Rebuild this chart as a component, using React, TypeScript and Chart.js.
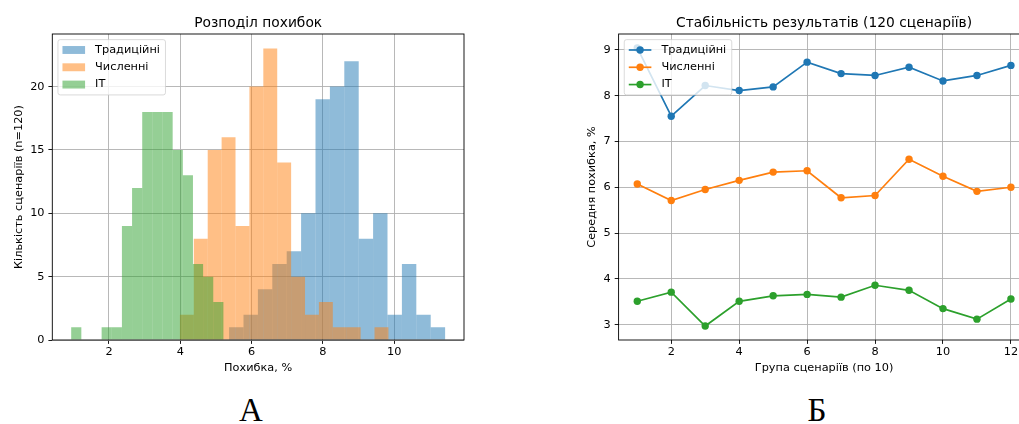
import React, { useEffect, useRef } from "react";
import { Chart, registerables } from "chart.js";

Chart.register(...registerables);

const FONT = "'DejaVu Sans', sans-serif";
const FS = 11.3;
const TITLE_FS = 13.8;

// ---------- Histogram (А) ----------
const seriesNames = ["Традиційні", "Численні", "ІТ"];
const tradCounts = [1, 2, 4, 6, 7, 10, 19, 20, 22, 8, 10, 2, 6, 2, 1];
const tradBinRange = [5.37, 11.43];
const numCounts = [2, 8, 15, 16, 9, 20, 23, 14, 5, 2, 3, 1, 1, 0, 1];
const numBinRange = [3.99, 9.84];
const itCounts = [1, 0, 0, 1, 1, 9, 12, 18, 18, 18, 15, 13, 6, 5, 3];
const itBinRange = [0.94, 5.21];
const histXTicks = [2, 4, 6, 8, 10];
const histYTicks = [0, 5, 10, 15, 20];
const histXRange = [0.41, 11.96];
const histYRange = [0, 24.15];

// ---------- Line chart (Б) ----------
const groups = [1, 2, 3, 4, 5, 6, 7, 8, 9, 10, 11, 12];
const tradMeans = [9.04, 7.55, 8.22, 8.11, 8.19, 8.73, 8.48, 8.44, 8.62, 8.32, 8.44, 8.66];
const numMeans = [6.07, 5.71, 5.95, 6.15, 6.33, 6.36, 5.77, 5.82, 6.61, 6.24, 5.91, 6.0];
const itMeans = [3.51, 3.71, 2.97, 3.51, 3.63, 3.66, 3.6, 3.86, 3.75, 3.35, 3.12, 3.56];
const lineXTicks = [2, 4, 6, 8, 10, 12];
const lineYTicks = [3, 4, 5, 6, 7, 8, 9];
const lineXRange = [0.45, 12.55];
const lineYRange = [2.665, 9.345];

const colors = ["#1f77b4", "#ff7f0e", "#2ca02c"];
const colorsAlpha = ["rgba(31,119,180,0.5)", "rgba(255,127,14,0.5)", "rgba(44,160,44,0.5)"];

function binPoints(counts: number[], range: number[]) {
  const w = (range[1] - range[0]) / counts.length;
  return counts.map((c, i) => ({ x: range[0] + (i + 0.5) * w, y: c }));
}

function linePoints(xs: number[], ys: number[]) {
  return ys.map((y, i) => ({ x: xs[i], y }));
}

function axis(o: {
  range: number[];
  ticks: number[];
  title: string;
  horizontal: boolean;
  size: number;
  tickPad: number;
  titlePad: any;
  z?: number;
}) {
  return {
    type: "linear",
    min: o.range[0],
    max: o.range[1],
    offset: false,
    z: o.z || 0,
    afterBuildTicks: (s: any) => {
      s.ticks = o.ticks.map((v) => ({ value: v }));
    },
    afterFit: (s: any) => {
      if (o.horizontal) s.height = o.size;
      else s.width = o.size;
    },
    grid: {
      color: "#b0b0b0",
      lineWidth: 0.9,
      offset: false,
      drawTicks: true,
      tickLength: 3.9,
      tickColor: "#000",
      tickWidth: 0.9,
    },
    border: { display: false },
    ticks: {
      color: "#000",
      font: { family: FONT, size: FS },
      padding: o.tickPad,
      maxRotation: 0,
      minRotation: 0,
      autoSkip: false,
    },
    title: {
      display: true,
      text: o.title,
      color: "#000",
      font: { family: FONT, size: FS },
      padding: o.titlePad,
    },
  };
}

function hiddenAxis(range: number[], ticks: number[]) {
  return {
    type: "linear",
    display: false,
    min: range[0],
    max: range[1],
    offset: false,
    afterBuildTicks: (s: any) => {
      s.ticks = ticks.map((v) => ({ value: v }));
    },
    ticks: { display: false },
    grid: { display: false, offset: false },
  };
}

const framePlugin = {
  id: "mplFrame",
  afterDraw(chart: any) {
    const { ctx, chartArea: a } = chart;
    ctx.save();
    ctx.strokeStyle = "#000";
    ctx.lineWidth = 0.9;
    ctx.strokeRect(a.left, a.top, a.right - a.left, a.bottom - a.top);
    ctx.restore();
  },
};

function axTitlePlugin(text: string) {
  return {
    id: "mplTitle",
    afterDraw(chart: any) {
      const { ctx, chartArea: a } = chart;
      ctx.save();
      ctx.font = `${TITLE_FS}px ${FONT}`;
      ctx.fillStyle = "#000";
      ctx.textAlign = "center";
      ctx.textBaseline = "alphabetic";
      ctx.fillText(text, (a.left + a.right) / 2, a.top - 6.75);
      ctx.restore();
    },
  };
}

function legendPlugin(items: { label: string; color: string }[], kind: "patch" | "line") {
  return {
    id: "mplLegend",
    afterDraw(chart: any) {
      const { ctx, chartArea: a } = chart;
      const fs = FS;
      const bp = 0.4 * fs;
      const hl = 2 * fs;
      const htp = 0.8 * fs;
      const ls = 0.5 * fs;
      const rowH = 1.03 * fs;
      ctx.save();
      ctx.font = `${fs}px ${FONT}`;
      const tw = Math.max(...items.map((it) => ctx.measureText(it.label).width));
      const x0 = a.left + 0.5 * fs;
      const y0 = a.top + 0.5 * fs;
      const w = 2 * bp + hl + htp + tw + 2;
      const h = 2 * bp + items.length * rowH + (items.length - 1) * ls;
      const r = 0.2 * fs;
      ctx.beginPath();
      ctx.moveTo(x0 + r, y0);
      ctx.lineTo(x0 + w - r, y0);
      ctx.arcTo(x0 + w, y0, x0 + w, y0 + r, r);
      ctx.lineTo(x0 + w, y0 + h - r);
      ctx.arcTo(x0 + w, y0 + h, x0 + w - r, y0 + h, r);
      ctx.lineTo(x0 + r, y0 + h);
      ctx.arcTo(x0, y0 + h, x0, y0 + h - r, r);
      ctx.lineTo(x0, y0 + r);
      ctx.arcTo(x0, y0, x0 + r, y0, r);
      ctx.closePath();
      ctx.fillStyle = "rgba(255,255,255,0.8)";
      ctx.fill();
      ctx.strokeStyle = "rgba(204,204,204,0.8)";
      ctx.lineWidth = 0.9;
      ctx.stroke();
      items.forEach((it, i) => {
        const cy = y0 + bp + i * (rowH + ls) + rowH / 2;
        const hx = x0 + bp;
        if (kind === "patch") {
          ctx.fillStyle = it.color;
          ctx.fillRect(hx, cy - 0.35 * fs, hl, 0.7 * fs);
        } else {
          ctx.strokeStyle = it.color;
          ctx.lineWidth = 1.69;
          ctx.beginPath();
          ctx.moveTo(hx, cy);
          ctx.lineTo(hx + hl, cy);
          ctx.stroke();
          ctx.fillStyle = it.color;
          ctx.beginPath();
          ctx.arc(hx + hl / 2, cy, 3.7, 0, Math.PI * 2);
          ctx.fill();
        }
        ctx.fillStyle = "#000";
        ctx.textAlign = "left";
        ctx.textBaseline = "middle";
        ctx.fillText(it.label, hx + hl + htp + 1, cy);
      });
      ctx.restore();
    },
  };
}

export default function App() {
  const leftRef = useRef<HTMLCanvasElement | null>(null);
  const rightRef = useRef<HTMLCanvasElement | null>(null);

  useEffect(() => {
    Chart.defaults.font.family = FONT;
    const left = new Chart(leftRef.current as HTMLCanvasElement, {
      type: "bar",
      data: {
        datasets: [
          {
            label: seriesNames[0],
            data: binPoints(tradCounts, tradBinRange),
            xAxisID: "x",
            backgroundColor: colorsAlpha[0],
            order: 3,
          },
          {
            label: seriesNames[1],
            data: binPoints(numCounts, numBinRange),
            xAxisID: "xB",
            backgroundColor: colorsAlpha[1],
            order: 2,
          },
          {
            label: seriesNames[2],
            data: binPoints(itCounts, itBinRange),
            xAxisID: "xC",
            backgroundColor: colorsAlpha[2],
            order: 1,
          },
        ] as any,
      },
      options: {
        responsive: false,
        animation: false,
        devicePixelRatio: 1,
        events: [],
        layout: { padding: { top: 34, right: 45, left: 0, bottom: 0 } },
        datasets: {
          bar: {
            barPercentage: 1,
            categoryPercentage: 1,
            grouped: false,
            borderWidth: 0,
            inflateAmount: 0,
          },
        } as any,
        plugins: {
          legend: { display: false },
          tooltip: { enabled: false },
          title: { display: false },
        },
        scales: {
          x: axis({
            range: histXRange,
            ticks: histXTicks,
            title: "Похибка, %",
            horizontal: true,
            size: 40,
            tickPad: 1.6,
            titlePad: { top: 0, bottom: 4.9 },
            z: 1,
          }),
          xB: hiddenAxis(histXRange, histXTicks),
          xC: hiddenAxis(histXRange, histXTicks),
          y: axis({
            range: histYRange,
            ticks: histYTicks,
            title: "Кількість сценаріїв (n=120)",
            horizontal: false,
            size: 52.3,
            tickPad: 3.9,
            titlePad: { top: 12.2, bottom: 0 },
            z: 1,
          }),
        } as any,
      },
      plugins: [
        framePlugin,
        axTitlePlugin("Розподіл похибок"),
        legendPlugin(
          seriesNames.map((s, i) => ({ label: s, color: colorsAlpha[i] })),
          "patch"
        ),
      ],
    });

    const lineSeries = [tradMeans, numMeans, itMeans];
    const right = new Chart(rightRef.current as HTMLCanvasElement, {
      type: "line",
      data: {
        datasets: lineSeries.map((ys, i) => ({
          label: seriesNames[i],
          data: linePoints(groups, ys),
          borderColor: colors[i],
          backgroundColor: colors[i],
          pointBackgroundColor: colors[i],
          borderWidth: 1.69,
          pointRadius: 3.7,
          pointBorderWidth: 0,
          fill: false,
          tension: 0,
        })) as any,
      },
      options: {
        responsive: false,
        animation: false,
        devicePixelRatio: 1,
        events: [],
        layout: { padding: { top: 34, right: 10.4, left: 0, bottom: 0 } },
        plugins: {
          legend: { display: false },
          tooltip: { enabled: false },
          title: { display: false },
        },
        scales: {
          x: axis({
            range: lineXRange,
            ticks: lineXTicks,
            title: "Група сценаріїв (по 10)",
            horizontal: true,
            size: 40,
            tickPad: 1.6,
            titlePad: { top: 0, bottom: 4.9 },
          }),
          y: axis({
            range: lineYRange,
            ticks: lineYTicks,
            title: "Середня похибка, %",
            horizontal: false,
            size: 58.6,
            tickPad: 3.9,
            titlePad: { top: 25.7, bottom: 0 },
          }),
        } as any,
      },
      plugins: [
        framePlugin,
        axTitlePlugin("Стабільність результатів (120 сценаріїв)"),
        legendPlugin(
          seriesNames.map((s, i) => ({ label: s, color: colors[i] })),
          "line"
        ),
      ],
    });

    return () => {
      left.destroy();
      right.destroy();
    };
  }, []);

  const labelStyle: React.CSSProperties = {
    position: "absolute",
    top: 394,
    fontFamily: "'Liberation Serif', 'Times New Roman', serif",
    fontSize: 33,
    lineHeight: "33px",
    color: "#000",
    transform: "translateX(-50%)",
    whiteSpace: "nowrap",
  };

  return (
    <div
      style={{
        position: "absolute",
        left: 0,
        top: 0,
        width: 1019,
        height: 424,
        overflow: "hidden",
        background: "#fff",
      }}
    >
      <canvas
        ref={leftRef}
        width={509}
        height={380}
        style={{ position: "absolute", left: 0, top: 0, width: 509, height: 380 }}
      />
      <canvas
        ref={rightRef}
        width={480}
        height={380}
        style={{ position: "absolute", left: 560, top: 0, width: 480, height: 380 }}
      />
      <div style={{ ...labelStyle, left: 251 }}>А</div>
      <div style={{ ...labelStyle, left: 817 }}>Б</div>
    </div>
  );
}
